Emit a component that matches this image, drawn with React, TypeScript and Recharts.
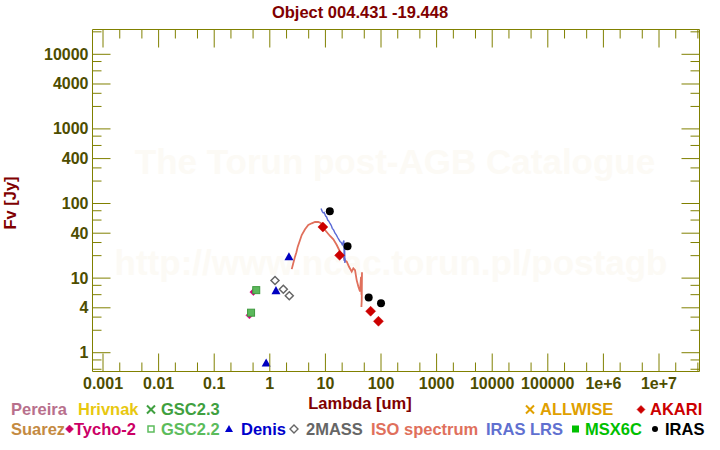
import React from "react";
import { ScatterChart, Scatter, XAxis, YAxis } from "recharts";

const FONT = "'Liberation Sans', Arial, Helvetica, sans-serif";
const OLIVE = "#808000";
const TICK_INK = "#4d4d00";
const MAROON = "#800000";
const WATERMARK = "#fcfaf5";

// axis ranges: wavelength in um, flux in Jy
const X_DOMAIN = [0.000647, 5.35e7];
const Y_DOMAIN = [0.56, 21500];

const xMajorTicks = [0.001, 0.01, 0.1, 1, 10, 100, 1000, 10000, 100000, 1e6, 1e7];
const xTickLabels = ["0.001", "0.01", "0.1", "1", "10", "100", "1000", "10000", "100000", "1e+6", "1e+7"];
const xMinorTicks = [
  0.002, 0.005, 0.02, 0.05, 0.2, 0.5, 2, 5, 20, 50, 200, 500, 2000, 5000,
  20000, 50000, 200000, 500000, 2e6, 5e6, 2e7, 5e7,
];

const yMajorTicks = [1, 4, 10, 40, 100, 400, 1000, 4000, 10000];
const yTickLabels = ["1", "4", "10", "40", "100", "400", "1000", "4000", "10000"];
const yMinorTicks = [
  0.6, 0.8, 2, 3, 6, 8, 20, 30, 60, 80, 200, 300, 600, 800, 2000, 3000, 6000, 8000, 20000,
];

// photometry
const tychoLambda = [0.43, 0.505];
const tychoFlux = [3.17, 6.5];
const gsc22Lambda = [0.46, 0.57];
const gsc22Flux = [3.44, 6.9];
const denisLambda = [0.86, 1.29, 2.21];
const denisFlux = [0.73, 6.8, 19.4];
const twoMassLambda = [1.24, 1.75, 2.24];
const twoMassFlux = [9.3, 7.1, 5.8];
const akariLambda = [9, 18, 65, 90];
const akariFlux = [48.4, 20.2, 3.6, 2.64];
const irasLambda = [12, 25, 60, 100];
const irasFlux = [78.6, 26.7, 5.5, 4.6];

// spectra
const isoLambda = [
  2.48, 2.62, 2.84, 3.0, 3.18, 3.45, 3.75, 4.3, 4.92, 5.67, 6.5, 7.45, 8.34, 9.84, 12.1, 13.9, 16.0,
  18.3, 21.0, 22.5, 24.2, 26.6, 29.7, 31.8, 34.1, 36.5, 39.1, 41.9, 43.7, 44.5, 45.5, 45.0, 44.4,
];
const isoFlux = [
  13.2, 15.5, 19.4, 22.0, 26.4, 31.5, 37.8, 45.1, 51.5, 54.3, 56.5, 56.5, 54.3, 44.2, 36.7, 33.1, 27.8,
  22.6, 19.4, 17.2, 16.6, 14.2, 12.2, 13.5, 12.8, 9.4, 7.7, 6.6, 10.4, 6.0, 12.0, 5.0, 4.1,
];
const lrsLambda = [
  8.34, 8.8, 9.16, 9.5, 10.1, 10.5, 11.0, 11.5, 12.1, 12.7, 13.3, 14.1, 14.9, 15.7, 16.6, 17.4,
  18.3, 19.2, 20.1, 21.5, 21.8, 22.1, 22.4, 22.7,
];
const lrsFlux = [
  86, 78, 75, 76, 68, 66, 60, 58, 54, 51, 46.5, 44, 40, 38, 35, 33,
  31, 30, 28, 32, 17, 29, 16, 18.4,
];

const legendNames = [
  "Pereira", "Hrivnak", "GSC2.3", "ALLWISE", "AKARI",
  "Suarez", "Tycho-2", "GSC2.2", "Denis", "2MASS", "ISO spectrum", "IRAS LRS", "MSX6C", "IRAS",
];

const pts = (xs: number[], ys: number[]) => xs.map((x, i) => ({ x, y: ys[i] }));

const findMajor = (list: number[], v: number) =>
  list.findIndex((m) => Math.abs(m - v) / m < 1e-6);

type TickProps = { x?: number; y?: number; payload?: { value: number } };

const BottomTick = ({ x = 0, y = 0, payload }: TickProps) => {
  const i = findMajor(xMajorTicks, payload ? payload.value : 0);
  return (
    <g>
      <line x1={x} x2={x} y1={y} y2={y - (i >= 0 ? 18 : 9)} stroke={OLIVE} />
      {i >= 0 && (
        <text x={x} y={y + 17} textAnchor="middle" fontFamily={FONT} fontWeight="bold" fontSize={16} fill={TICK_INK}>
          {xTickLabels[i]}
        </text>
      )}
    </g>
  );
};

const TopTick = ({ x = 0, y = 0, payload }: TickProps) => {
  const i = findMajor(xMajorTicks, payload ? payload.value : 0);
  return <line x1={x} x2={x} y1={y} y2={y + (i >= 0 ? 18 : 9)} stroke={OLIVE} />;
};

const LeftTick = ({ x = 0, y = 0, payload }: TickProps) => {
  const i = findMajor(yMajorTicks, payload ? payload.value : 0);
  return (
    <g>
      <line x1={x} x2={x + (i >= 0 ? 18 : 9)} y1={y} y2={y} stroke={OLIVE} />
      {i >= 0 && (
        <text x={x - 4} y={y + 5.5} textAnchor="end" fontFamily={FONT} fontWeight="bold" fontSize={16} fill={TICK_INK}>
          {yTickLabels[i]}
        </text>
      )}
    </g>
  );
};

const RightTick = ({ x = 0, y = 0, payload }: TickProps) => {
  const i = findMajor(yMajorTicks, payload ? payload.value : 0);
  return <line x1={x} x2={x - (i >= 0 ? 18 : 9)} y1={y} y2={y} stroke={OLIVE} />;
};

// marker shapes
const dot = (r: number, fill: string) => (p: any) => <circle cx={p.cx} cy={p.cy} r={r} fill={fill} />;
const diamond = (r: number, fill: string, open = false) => (p: any) => (
  <polygon
    points={`${p.cx},${p.cy - r} ${p.cx + r},${p.cy} ${p.cx},${p.cy + r} ${p.cx - r},${p.cy}`}
    fill={open ? "none" : fill}
    stroke={fill}
    strokeWidth={open ? 1.5 : 0.5}
  />
);
const triangle = (r: number, fill: string) => (p: any) => (
  <polygon
    points={`${p.cx},${p.cy - r} ${p.cx + r},${p.cy + r * 0.8} ${p.cx - r},${p.cy + r * 0.8}`}
    fill={fill}
  />
);
const square = (r: number, fill: string, stroke: string) => (p: any) => (
  <rect x={p.cx - r} y={p.cy - r} width={2 * r} height={2 * r} fill={fill} stroke={stroke} strokeWidth={1} />
);
const none = () => <g />;

const legendLayout = [
  { row: 0, tx: 11, color: "#b8708c" },
  { row: 0, tx: 78, color: "#e8c810" },
  { row: 0, tx: 161, sx: 151, sym: "x", color: "#40a040" },
  { row: 0, tx: 540, sx: 530, sym: "x", color: "#e0a000" },
  { row: 0, tx: 650, sx: 641, sym: "d", color: "#cc0000" },
  { row: 1, tx: 11, color: "#c48a42" },
  { row: 1, tx: 74, sx: 69.5, sym: "d", color: "#cc0066" },
  { row: 1, tx: 161, sx: 151, sym: "os", color: "#5cbc5c" },
  { row: 1, tx: 241, sx: 229, sym: "t", color: "#0000cc" },
  { row: 1, tx: 306, sx: 294, sym: "od", color: "#666666" },
  { row: 1, tx: 371, color: "#e0705c" },
  { row: 1, tx: 486, color: "#6070d0" },
  { row: 1, tx: 585, sx: 575.5, sym: "s", color: "#00c000" },
  { row: 1, tx: 665, sx: 655, sym: "c", color: "#000000" },
];

const LegendSymbol = ({ sym, x, y, color }: { sym: string; x: number; y: number; color: string }) => {
  const r = 4;
  if (sym === "x")
    return (
      <g stroke={color} strokeWidth={2}>
        <line x1={x - r} y1={y - r} x2={x + r} y2={y + r} />
        <line x1={x - r} y1={y + r} x2={x + r} y2={y - r} />
      </g>
    );
  if (sym === "d" || sym === "od")
    return (
      <polygon
        points={`${x},${y - r} ${x + r},${y} ${x},${y + r} ${x - r},${y}`}
        fill={sym === "d" ? color : "none"}
        stroke={color}
        strokeWidth={sym === "d" ? 0.5 : 1.4}
      />
    );
  if (sym === "os") return <rect x={x - 3} y={y - 3} width={6} height={6} fill="none" stroke={color} strokeWidth={1.5} />;
  if (sym === "s") return <rect x={x - 3.5} y={y - 3.5} width={7} height={7} fill={color} />;
  if (sym === "t") return <polygon points={`${x},${y - 4} ${x + 4},${y + 3} ${x - 4},${y + 3}`} fill={color} />;
  return <circle cx={x} cy={y} r={3} fill={color} />;
};

const Backdrop = () => (
  <svg width={720} height={450} style={{ position: "absolute", left: 0, top: 0 }}>
    <rect width={720} height={450} fill="#ffffff" />
    <g fontFamily={FONT} fontWeight="bold" fontSize={35} fill={WATERMARK} textAnchor="middle">
      <text x={395} y={174}>The Torun post-AGB Catalogue</text>
      <text x={391} y={275}>http://www.ncac.torun.pl/postagb</text>
    </g>
    <text x={360} y={17.5} textAnchor="middle" fontFamily={FONT} fontWeight="bold" fontSize={16.5} fill={MAROON}>
      Object 004.431 -19.448
    </text>
    <text x={360} y={409} textAnchor="middle" fontFamily={FONT} fontWeight="bold" fontSize={16.5} fill={MAROON}>
      Lambda [um]
    </text>
    <text
      x={16}
      y={203}
      transform="rotate(-90 16 203)"
      textAnchor="middle"
      fontFamily={FONT}
      fontWeight="bold"
      fontSize={16.5}
      fill={MAROON}
    >
      Fv [Jy]
    </text>
    {legendLayout.map((l, i) => {
      const base = l.row === 0 ? 415 : 434.5;
      return (
        <g key={legendNames[i]}>
          {l.sym && l.sx !== undefined && <LegendSymbol sym={l.sym} x={l.sx} y={base - 5.5} color={l.color} />}
          <text x={l.tx} y={base} fontFamily={FONT} fontWeight="bold" fontSize={16.5} fill={l.color}>
            {legendNames[i]}
          </text>
        </g>
      );
    })}
  </svg>
);

const App = () => {
  const xTicks = [...xMajorTicks, ...xMinorTicks].sort((a, b) => a - b);
  const yTicks = [...yMajorTicks, ...yMinorTicks].sort((a, b) => a - b);
  const axisLine = { stroke: OLIVE, strokeWidth: 1 };

  return (
    <div style={{ position: "absolute", left: 0, top: 0, width: 720, height: 450 }}>
      <Backdrop />
      <div style={{ position: "absolute", left: 0, top: 0 }}>
        <ScatterChart width={720} height={450} margin={{ top: 28.5, right: 19.5, bottom: 48.5, left: 8.5 }}>
          <XAxis
            xAxisId="b"
            dataKey="x"
            type="number"
            scale="log"
            domain={X_DOMAIN}
            allowDataOverflow
            ticks={xTicks}
            interval={0}
            height={30}
            tickSize={0}
            tickMargin={0}
            tickLine={false}
            axisLine={axisLine}
            tick={<BottomTick />}
          />
          <XAxis
            xAxisId="t"
            orientation="top"
            dataKey="x"
            type="number"
            scale="log"
            domain={X_DOMAIN}
            allowDataOverflow
            ticks={xTicks}
            interval={0}
            height={1}
            tickSize={0}
            tickMargin={0}
            tickLine={false}
            axisLine={axisLine}
            tick={<TopTick />}
          />
          <YAxis
            yAxisId="l"
            dataKey="y"
            type="number"
            scale="log"
            domain={Y_DOMAIN}
            allowDataOverflow
            ticks={yTicks}
            interval={0}
            width={84}
            tickSize={0}
            tickMargin={0}
            tickLine={false}
            axisLine={axisLine}
            tick={<LeftTick />}
          />
          <YAxis
            yAxisId="r"
            orientation="right"
            dataKey="y"
            type="number"
            scale="log"
            domain={Y_DOMAIN}
            allowDataOverflow
            ticks={yTicks}
            interval={0}
            width={1}
            tickSize={0}
            tickMargin={0}
            tickLine={false}
            axisLine={axisLine}
            tick={<RightTick />}
          />
          <Scatter
            name="ISO spectrum"
            xAxisId="b"
            yAxisId="l"
            data={pts(isoLambda, isoFlux)}
            fill="#e0705c"
            line={{ stroke: "#e0705c", strokeWidth: 1.8 }}
            shape={none}
            isAnimationActive={false}
          />
          <Scatter
            name="IRAS LRS"
            xAxisId="b"
            yAxisId="l"
            data={pts(lrsLambda, lrsFlux)}
            fill="#5a6ad6"
            line={{ stroke: "#5a6ad6", strokeWidth: 1.4 }}
            shape={none}
            isAnimationActive={false}
          />
          <Scatter name="Tycho-2" xAxisId="b" yAxisId="l" data={pts(tychoLambda, tychoFlux)} shape={diamond(3.5, "#d0007a")} isAnimationActive={false} />
          <Scatter name="GSC2.2" xAxisId="b" yAxisId="l" data={pts(gsc22Lambda, gsc22Flux)} shape={square(3.5, "#5cb85c", "#3f9a3f")} isAnimationActive={false} />
          <Scatter name="2MASS" xAxisId="b" yAxisId="l" data={pts(twoMassLambda, twoMassFlux)} shape={diamond(4, "#666666", true)} isAnimationActive={false} />
          <Scatter name="Denis" xAxisId="b" yAxisId="l" data={pts(denisLambda, denisFlux)} shape={triangle(4.5, "#0000c0")} isAnimationActive={false} />
          <Scatter name="AKARI" xAxisId="b" yAxisId="l" data={pts(akariLambda, akariFlux)} shape={diamond(5, "#cc0000")} isAnimationActive={false} />
          <Scatter name="IRAS" xAxisId="b" yAxisId="l" data={pts(irasLambda, irasFlux)} shape={dot(4, "#000000")} isAnimationActive={false} />
        </ScatterChart>
      </div>
    </div>
  );
};

export default App;
